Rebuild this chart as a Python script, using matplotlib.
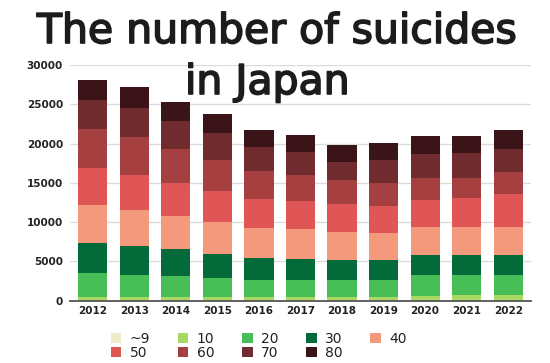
import matplotlib
matplotlib.use("Agg")
import matplotlib.pyplot as plt
import matplotlib.patheffects as pe
from matplotlib.patches import Patch
import numpy as np

years = ["2012", "2013", "2014", "2015", "2016", "2017", "2018", "2019", "2020", "2021", "2022"]
age_groups = ["~9", "10", "20", "30", "40", "50", "60", "70", "80"]

age_under10 = [10, 10, 10, 10, 10, 10, 10, 10, 10, 10, 10]
age_10s = [500, 500, 490, 450, 440, 440, 490, 500, 640, 660, 710]
age_20s = [2996, 2743, 2623, 2369, 2205, 2167, 2117, 2149, 2566, 2617, 2529]
age_30s = [3792, 3704, 3413, 3085, 2819, 2731, 2604, 2528, 2617, 2528, 2528]
age_40s = [4931, 4589, 4248, 4083, 3793, 3716, 3502, 3414, 3578, 3629, 3667]
age_50s = [4678, 4514, 4171, 4008, 3628, 3578, 3628, 3501, 3376, 3615, 4083]
age_60s = [5006, 4764, 4388, 3919, 3628, 3376, 3035, 2857, 2819, 2617, 2819]
age_70s = [3591, 3740, 3502, 3451, 2984, 2857, 2234, 2959, 3034, 3072, 2997]
age_80s = [2529, 2620, 2439, 2440, 2276, 2275, 2225, 2099, 2326, 2200, 2440]

series = [age_under10, age_10s, age_20s, age_30s, age_40s, age_50s, age_60s, age_70s, age_80s]
colors = ["#efedc9", "#a9d862", "#47be58", "#046a3a", "#f39a7d",
          "#e05656", "#a63f40", "#6f2b2e", "#3a1418"]

fig = plt.figure(figsize=(5.5, 3.63), dpi=100)
ax = fig.add_axes([70/550, 1 - 300.7/363, (531-70)/550, (300.7-65)/363])

x = np.arange(len(years))
bottom = np.zeros(len(years))
handles = []
for vals, col, lab in zip(series, colors, age_groups):
    v = np.array(vals, dtype=float)
    ax.bar(x, v, bottom=bottom, width=0.7, color=col, edgecolor="none", zorder=3)
    bottom += v
    handles.append(Patch(facecolor=col, edgecolor="none", label=lab))

ax.set_xlim(-0.55, len(years) - 0.45)
ax.set_ylim(0, 30000)
ax.set_yticks([0, 5000, 10000, 15000, 20000, 25000, 30000])
ax.set_xticks(x)
ax.set_xticklabels(years)
ax.grid(axis="y", color="#dcdcdc", linewidth=1.0, zorder=0)
ax.set_axisbelow(True)
for s in ["top", "right", "left"]:
    ax.spines[s].set_visible(False)
ax.spines["bottom"].set_color("#555555")
ax.spines["bottom"].set_linewidth(1.3)
ax.spines["bottom"].set_zorder(4)
ax.tick_params(axis="both", length=0)
ax.tick_params(axis="y", pad=5)
ax.tick_params(axis="x", pad=4)
for t in ax.get_xticklabels() + ax.get_yticklabels():
    t.set_fontfamily("DejaVu Sans")
    t.set_fontweight("bold")
    t.set_fontsize(7.5)
    t.set_color("#222222")

# legend (column-major order for 2 rows x 5 cols)
order = [0, 5, 1, 6, 2, 7, 3, 8, 4]
leg = fig.legend([handles[i] for i in order], [age_groups[i] for i in order],
                 ncol=5, loc="upper left", bbox_to_anchor=(111/550, 1 - 332/363),
                 frameon=False, borderpad=0, borderaxespad=0,
                 handlelength=0.75, handleheight=0.7, handletextpad=0.6,
                 columnspacing=2.0, labelspacing=0.0,
                 prop={"family": "DejaVu Sans", "size": 10})
for t in leg.get_texts():
    t.set_color("#222222")

thick = [pe.withStroke(linewidth=1.2, foreground="#1c1c1c")]
fig.text(277/550, 1 - 43/363, "The number of suicides", ha="center", va="baseline",
         fontsize=29.5, fontfamily="DejaVu Sans", color="#1c1c1c", path_effects=thick)
fig.text(185/550, 1 - 94/363, "in Japan", ha="left", va="baseline",
         fontsize=29.5, fontfamily="DejaVu Sans", color="#1c1c1c", path_effects=thick)

fig.savefig("out.png", dpi=100)
